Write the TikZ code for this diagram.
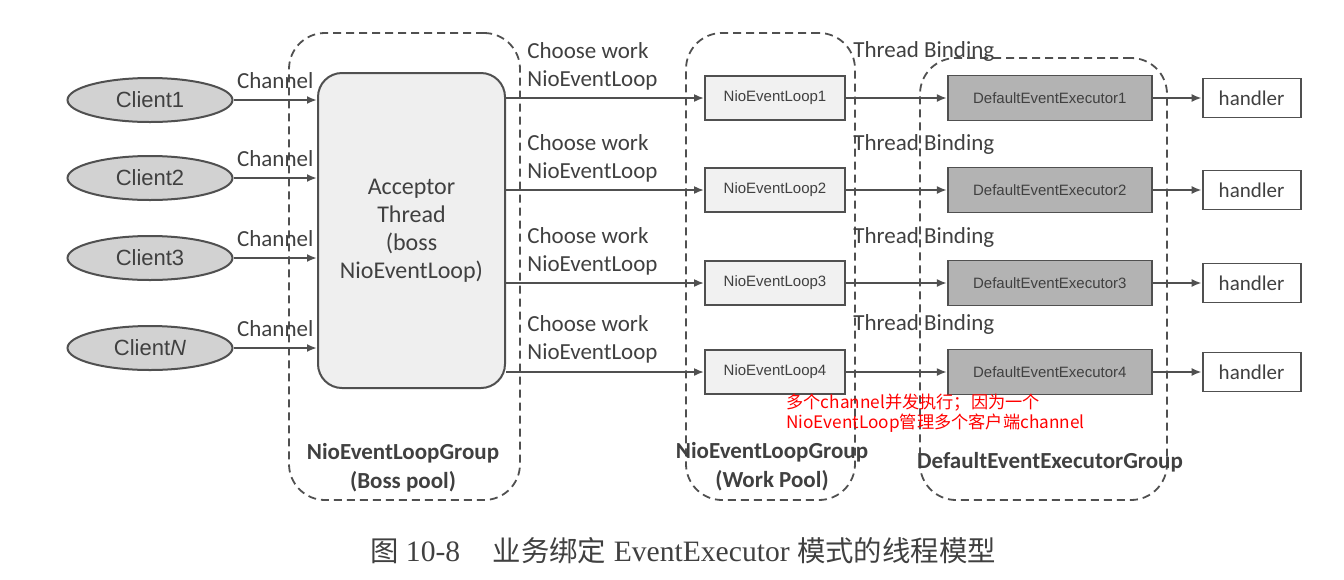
\documentclass[tikz,border=0pt]{standalone}
\usepackage{fontspec}
\setmainfont{Liberation Serif}
\newfontfamily\carlito{Carlito}
\newfontfamily\arial{Liberation Sans}
\newfontfamily\cjk{Noto Sans CJK SC}
\usetikzlibrary{shapes.geometric, positioning, arrows.meta}

\definecolor{linegray}{HTML}{505050}
\definecolor{textgray}{HTML}{404040}
\definecolor{clientfill}{HTML}{D2D2D2}
\definecolor{accfill}{HTML}{EFEFEF}
\definecolor{loopfill}{HTML}{F1F1F1}
\definecolor{execfill}{HTML}{B3B3B3}

\tikzset{
  client/.style={ellipse, draw=linegray, line width=1pt, fill=clientfill,
    minimum width=82.5pt, minimum height=22pt, inner sep=0pt,
    text=textgray, font=\arial\fontsize{11}{13}\selectfont},
  acceptor/.style={draw=linegray, line width=1pt, fill=accfill, rounded corners=12pt,
    minimum width=93.5pt, minimum height=157.5pt, align=center, text=textgray,
    font=\carlito\fontsize{12}{14}\selectfont},
  loopbox/.style={draw=linegray, line width=0.9pt, fill=loopfill,
    minimum width=70pt, minimum height=22pt, inner sep=0pt,
    text=textgray, font=\arial\fontsize{7.5}{9}\selectfont},
  execbox/.style={draw=linegray, line width=0.9pt, fill=execfill,
    minimum width=102pt, minimum height=22.5pt, inner sep=0pt,
    text=textgray, font=\arial\fontsize{7.5}{9}\selectfont},
  handlerbox/.style={draw=linegray, line width=0.9pt, fill=white,
    minimum width=49pt, minimum height=19.5pt, inner sep=0pt,
    text=textgray, font=\carlito\fontsize{10.5}{12}\selectfont},
  group/.style={draw=linegray, line width=0.9pt, dash pattern=on 4pt off 2.5pt,
    rounded corners=18pt, inner sep=0pt},
  lbl/.style={inner sep=0pt, text=textgray, align=left,
    font=\carlito\fontsize{11.5}{14}\selectfont},
  grouplbl/.style={inner sep=0pt, text=textgray, align=center,
    font=\carlito\bfseries\fontsize{11.5}{14.5}\selectfont},
  note/.style={inner sep=0pt, text=red, align=left,
    font=\cjk\fontsize{8.6}{10}\selectfont},
  flow/.style={draw=linegray, line width=1pt, -{Latex[length=5pt,width=4pt]}},
}

\begin{document}
\begin{tikzpicture}[x=0.5pt, y=-0.5pt]
\useasboundingbox (0,0) rectangle (1344,579);

% dashed pools
\node[group, minimum width=115.5pt, minimum height=233.5pt] (boss) at (404.5,266.5) {};
\node[group, minimum width=84.5pt, minimum height=233.5pt] (work) at (770.5,266.5) {};
\node[group, minimum width=123.5pt, minimum height=221pt] (execgrp) at (1043.5,279) {};

\node[grouplbl] (bosslbl) at (403,468) {NioEventLoopGroup\\(Boss pool)};
\node[grouplbl] (worklbl) at (772,467) {NioEventLoopGroup\\(Work Pool)};
\node[grouplbl] (execlbl) at (1050,462) {DefaultEventExecutorGroup};

% clients and acceptor
\node[client] (c1) at (150,100) {Client1};
\node[client] (c2) at (150,178) {Client2};
\node[client] (c3) at (150,258) {Client3};
\node[client] (cn) at (150,348) {Client\textit{N}};

\node[acceptor] (acc) at (411.5,230.5) {Acceptor\\Thread\\(boss\\NioEventLoop)};

\draw[flow] (c1.east) -- (c1.east -| acc.west) node[lbl, midway, above=5pt] {Channel};
\draw[flow] (c2.east) -- (c2.east -| acc.west) node[lbl, midway, above=5pt] {Channel};
\draw[flow] (c3.east) -- (c3.east -| acc.west) node[lbl, midway, above=5pt] {Channel};
\draw[flow] (cn.east) -- (cn.east -| acc.west) node[lbl, midway, above=5pt] {Channel};

% work loops, executors, handlers
\node[loopbox] (l1) at (775,98) {NioEventLoop1};
\node[loopbox] (l2) at (775,190) {NioEventLoop2};
\node[loopbox] (l3) at (775,283) {NioEventLoop3};
\node[loopbox] (l4) at (775,372) {NioEventLoop4};

\node[execbox] (e1) [right=50.5pt of l1] {DefaultEventExecutor1};
\node[execbox] (e2) [right=50.5pt of l2] {DefaultEventExecutor2};
\node[execbox] (e3) [right=50.5pt of l3] {DefaultEventExecutor3};
\node[execbox] (e4) [right=50.5pt of l4] {DefaultEventExecutor4};

\node[handlerbox] (h1) [right=24.5pt of e1] {handler};
\node[handlerbox] (h2) [right=24.5pt of e2] {handler};
\node[handlerbox] (h3) [right=24.5pt of e3] {handler};
\node[handlerbox] (h4) [right=24.5pt of e4] {handler};

\node[lbl, anchor=west] (cw1) at (527,66) {Choose work\\NioEventLoop};
\node[lbl, anchor=west] (cw2) at (527,158) {Choose work\\NioEventLoop};
\node[lbl, anchor=west] (cw3) at (527,251) {Choose work\\NioEventLoop};
\node[lbl, anchor=west] (cw4) at (527,339) {Choose work\\NioEventLoop};

\node[lbl, anchor=west] (tb1) at (853,51) {Thread Binding};
\node[lbl, anchor=west] (tb2) at (853,144) {Thread Binding};
\node[lbl, anchor=west] (tb3) at (853,237) {Thread Binding};
\node[lbl, anchor=west] (tb4) at (853,324) {Thread Binding};

\draw[flow] (acc.east |- l1.west) -- (l1.west);
\draw[flow] (acc.east |- l2.west) -- (l2.west);
\draw[flow] (acc.east |- l3.west) -- (l3.west);
\draw[flow] (acc.east |- l4.west) -- (l4.west);

\draw[flow] (l1) -- (e1);
\draw[flow] (l2) -- (e2);
\draw[flow] (l3) -- (e3);
\draw[flow] (l4) -- (e4);

\draw[flow] (e1) -- (h1);
\draw[flow] (e2) -- (h2);
\draw[flow] (e3) -- (h3);
\draw[flow] (e4) -- (h4);

\node[note, anchor=north west] (remark) at (786,394)
  {多个channel并发执行；因为一个\\NioEventLoop管理多个客户端channel};

% caption
\node[inner sep=0pt, text=textgray, font=\fontsize{14.8}{17}\selectfont] (caption) at (683,551)
  {{\cjk\fontsize{14.2}{17}\selectfont 图}\ 10-8\hspace{1.1em}{\cjk\fontsize{14.2}{17}\selectfont 业务绑定}\ EventExecutor\ {\cjk\fontsize{14.2}{17}\selectfont 模式的线程模型}};
\end{tikzpicture}
\end{document}
